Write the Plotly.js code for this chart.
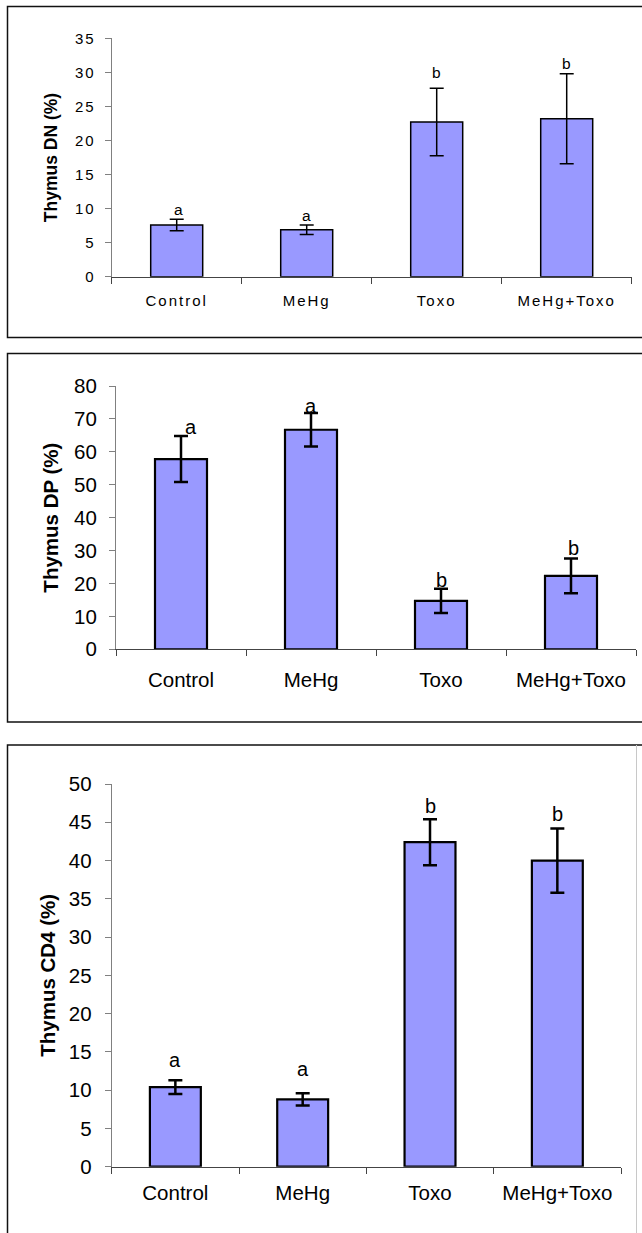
<!DOCTYPE html>
<html>
<head>
<meta charset="utf-8">
<script src="https://cdn.plot.ly/plotly-3.0.1.min.js"></script>
<style>
  html, body { margin: 0; padding: 0; background: #fff; }
  #chart { width: 642px; height: 1233px; }
  .xtick text, .ytick text { letter-spacing: 2px; }
</style>
</head>
<body>
<div id="chart"></div>
<script>
// ---- data ----
const categories = ["Control", "MeHg", "Toxo", "MeHg+Toxo"];

const dnMean = [7.6, 6.9, 22.7, 23.2];
const dnErr = [0.85, 0.7, 4.95, 6.6];
const dnLetters = ["a", "a", "b", "b"];

const dpMean = [57.8, 66.7, 14.7, 22.3];
const dpErr = [7.0, 5.1, 3.7, 5.3];
const dpLetters = ["a", "a", "b", "b"];

const cd4Mean = [10.4, 8.8, 42.4, 40.0];
const cd4Err = [0.9, 0.8, 3.0, 4.2];
const cd4Letters = ["a", "a", "b", "b"];

const yTitles = ["Thymus DN (%)", "Thymus DP (%)", "Thymus CD4 (%)"];

// ---- styling / layout ----
const W = 642, H = 1233;
const FONT = "Liberation Sans, Arial, sans-serif";
const px = v => v / W;          // x pixel -> paper
const py = v => 1 - v / H;      // y pixel -> paper

const panels = [
  { mean: dnMean, err: dnErr, letters: dnLetters, title: yTitles[0],
    xa: "x", ya: "y", xDom: [111.7, 631.7], yDom: [38.3, 276.7], range: [0, 35], dtick: 5,
    tickSize: 15, titleSize: 17.5, letterSize: 15.5, line: 1.5, errThick: 1.5,
    yStand: 6, xStand: 10, titleStand: 12,
    shifts: [10, 9.5, 15.5, 10.5], xshifts: [2, 0, 0, 0] },
  { mean: dpMean, err: dpErr, letters: dpLetters, title: yTitles[1],
    xa: "x2", ya: "y2", xDom: [116, 636], yDom: [386, 649.3], range: [0, 80], dtick: 10,
    tickSize: 20.5, titleSize: 20.5, letterSize: 20, line: 2.2, errThick: 2.5,
    yStand: 8, xStand: 12, titleStand: 9,
    shifts: [9.5, 7, 8.5, 10], xshifts: [10, 0, 0, 2] },
  { mean: cd4Mean, err: cd4Err, letters: cd4Letters, title: yTitles[2],
    xa: "x3", ya: "y3", xDom: [111.7, 621], yDom: [784, 1166.7], range: [0, 50], dtick: 5,
    tickSize: 20.5, titleSize: 20.5, letterSize: 20, line: 2.2, errThick: 2.5,
    yStand: 9, xStand: 8, titleStand: 7,
    shifts: [20, 24.5, 13.5, 14], xshifts: [0, 0, 0, 0] }
];

const data = [];
const layout = {
  width: W, height: H,
  margin: { l: 0, r: 0, t: 0, b: 0 },
  paper_bgcolor: "#ffffff", plot_bgcolor: "#ffffff",
  showlegend: false,
  font: { family: FONT, color: "#000" },
  annotations: [],
  shapes: [
    // panel frames
    { type: "rect", xref: "paper", yref: "paper", x0: px(7.5), x1: px(660), y0: py(337.5), y1: py(6.5),
      line: { color: "#111", width: 1.5 } },
    { type: "rect", xref: "paper", yref: "paper", x0: px(7.5), x1: px(660), y0: py(722), y1: py(353.5),
      line: { color: "#111", width: 1.5 } },
    { type: "rect", xref: "paper", yref: "paper", x0: px(7.5), x1: px(660), y0: py(1260), y1: py(745),
      line: { color: "#111", width: 1.5 } },
    { type: "line", xref: "paper", yref: "paper", x0: px(636.5), x1: px(636.5), y0: py(1233), y1: py(745),
      line: { color: "#c8c8c8", width: 1 } }
  ]
};

panels.forEach((p, i) => {
  data.push({
    type: "bar",
    x: categories, y: p.mean,
    xaxis: p.xa, yaxis: p.ya,
    width: 0.4,
    marker: { color: "#9999ff", line: { color: "#000", width: p.line } },
    error_y: { type: "data", array: p.err, visible: true, color: "#000",
               thickness: p.errThick, width: 7 },
    hoverinfo: "skip"
  });

  const xKey = i === 0 ? "xaxis" : "xaxis" + (i + 1);
  const yKey = i === 0 ? "yaxis" : "yaxis" + (i + 1);

  layout[xKey] = {
    domain: [px(p.xDom[0]), px(p.xDom[1])],
    anchor: p.ya,
    type: "category",
    range: [-0.5, 3.5],
    showline: true, linecolor: "#444", linewidth: 1,
    ticks: "outside", tickson: "boundaries", ticklen: 6, tickcolor: "#444", tickwidth: 1,
    ticklabelstandoff: p.xStand,
    tickfont: { family: FONT, size: p.tickSize, color: "#000" },
    showgrid: false, zeroline: false, fixedrange: true
  };
  layout[yKey] = {
    domain: [py(p.yDom[1]), py(p.yDom[0])],
    anchor: p.xa,
    range: p.range, dtick: p.dtick, tick0: 0,
    showline: true, linecolor: "#808080", linewidth: 1,
    ticks: "outside", ticklen: 6, tickcolor: "#808080", tickwidth: 1,
    ticklabelstandoff: p.yStand,
    tickfont: { family: FONT, size: p.tickSize, color: "#000" },
    showgrid: false, zeroline: false, fixedrange: true,
    title: { text: "<b>" + p.title + "</b>", standoff: p.titleStand,
             font: { family: FONT, size: p.titleSize, color: "#000" } }
  };

  categories.forEach((c, k) => {
    layout.annotations.push({
      xref: p.xa, yref: p.ya,
      x: c, y: p.mean[k] + p.err[k],
      text: p.letters[k],
      showarrow: false,
      yanchor: "middle", xanchor: "center",
      yshift: p.shifts[k], xshift: p.xshifts[k],
      font: { family: FONT, size: p.letterSize, color: "#000" }
    });
  });
});

Plotly.newPlot("chart", data, layout, { displayModeBar: false, staticPlot: true });
</script>
</body>
</html>
